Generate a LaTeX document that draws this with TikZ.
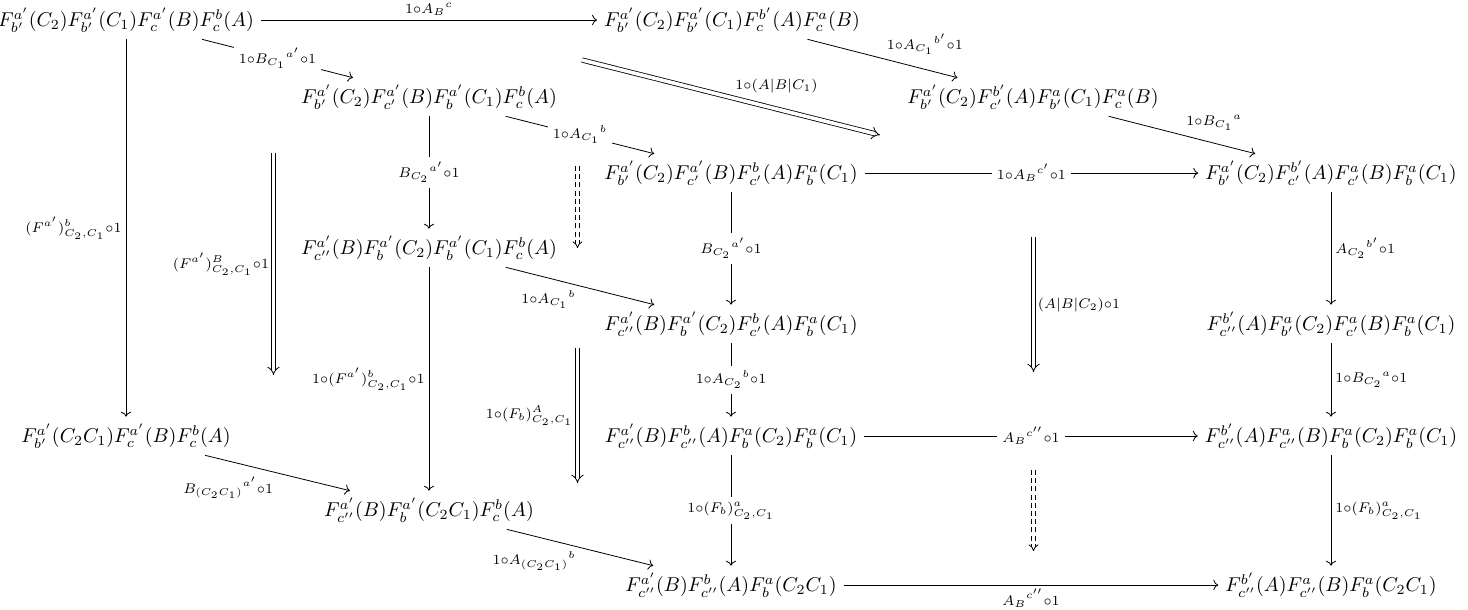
\documentclass[tikz,border=0pt]{standalone}
\usetikzlibrary{arrows.meta}
\begin{document}
\begin{tikzpicture}[x=0.5pt,y=-0.5pt,>={To},
  lab/.style={auto,inner sep=2pt,execute at begin node=$\scriptstyle,execute at end node=$},
  labsw/.style={lab,swap},
  desc/.style={fill=white,inner sep=2.5pt,execute at begin node=$\scriptstyle,execute at end node=$},
  twocell/.style={double,double distance=1.8pt,-{Implies}},
  twodash/.style={twocell,double distance=1.3pt,dash pattern=on 2.5pt off 1.6pt}]
\useasboundingbox (0,0) rectangle (1468,610);
\node (m00) at (126,20) {$F^{a'}_{b'}(C_2)F^{a'}_{b'}(C_1)F^{a'}_{c}(B)F^{b}_{c}(A)$};
\node (m02) at (732,20) {$F^{a'}_{b'}(C_2)F^{a'}_{b'}(C_1)F^{b'}_{c}(A)F^{a}_{c}(B)$};
\node (m11) at (429,97) {$F^{a'}_{b'}(C_2)F^{a'}_{c'}(B)F^{a'}_{b}(C_1)F^{b}_{c}(A)$};
\node (m13) at (1033,97) {$F^{a'}_{b'}(C_2)F^{b'}_{c'}(A)F^{a}_{b'}(C_1)F^{a}_{c}(B)$};
\node (m22) at (731,173) {$F^{a'}_{b'}(C_2)F^{a'}_{c'}(B)F^{b}_{c'}(A)F^{a}_{b}(C_1)$};
\node (m24) at (1331,173) {$F^{a'}_{b'}(C_2)F^{b'}_{c'}(A)F^{a}_{c'}(B)F^{a}_{b}(C_1)$};
\node (m31) at (429,248) {$F^{a'}_{c''}(B)F^{a'}_{b}(C_2)F^{a'}_{b}(C_1)F^{b}_{c}(A)$};
\node (m42) at (731,324) {$F^{a'}_{c''}(B)F^{a'}_{b}(C_2)F^{b}_{c'}(A)F^{a}_{b}(C_1)$};
\node (m44) at (1331,324) {$F^{b'}_{c''}(A)F^{a}_{b'}(C_2)F^{a}_{c'}(B)F^{a}_{b}(C_1)$};
\node (m50) at (126,436) {$F^{a'}_{b'}(C_2C_1)F^{a'}_{c}(B)F^{b}_{c}(A)$};
\node (m52) at (731,436) {$F^{a'}_{c''}(B)F^{b}_{c''}(A)F^{a}_{b}(C_2)F^{a}_{b}(C_1)$};
\node (m54) at (1331,436) {$F^{b'}_{c''}(A)F^{a}_{c''}(B)F^{a}_{b}(C_2)F^{a}_{b}(C_1)$};
\node (m61) at (429,510) {$F^{a'}_{c''}(B)F^{a'}_{b}(C_2C_1)F^{b}_{c}(A)$};
\node (m72) at (731,585) {$F^{a'}_{c''}(B)F^{b}_{c''}(A)F^{a}_{b}(C_2C_1)$};
\node (m74) at (1331,585) {$F^{b'}_{c''}(A)F^{a}_{c''}(B)F^{a}_{b}(C_2C_1)$};
\draw[->] (m00) -- (m02) node[lab,midway]{1\circ {A_B}^{c}};
\draw[->] (m00) -- (m11) node[desc,midway]{1\circ {B_{C_1}}^{a'}\circ 1};
\draw[->] (m00) -- (m50) node[labsw,midway]{(F^{a'})^{b}_{C_2,C_1}\circ 1};
\draw[->] (m02) -- (m13) node[lab,midway]{1\circ {A_{C_1}}^{b'}\circ 1};
\draw[->] (m13) -- (m24) node[lab,midway]{1\circ {B_{C_1}}^{a}};
\draw[->] (m11) -- (m22) node[desc,midway]{1\circ {A_{C_1}}^{b}};
\draw[->] (m11) -- (m31) node[desc,midway]{{B_{C_2}}^{a'}\circ 1};
\draw[->] (m22) -- (m24) node[desc,midway]{1\circ {A_B}^{c'}\circ 1};
\draw[->] (m22) -- (m42) node[desc,midway]{{B_{C_2}}^{a'}\circ 1};
\draw[->] (m24) -- (m44) node[lab,midway]{{A_{C_2}}^{b'}\circ 1};
\draw[->] (m31) -- (m42) node[labsw,midway]{1\circ {A_{C_1}}^{b}};
\draw[->] (m31) -- (m61) node[labsw,midway]{1\circ (F^{a'})^{b}_{C_2,C_1}\circ 1};
\draw[->] (m42) -- (m52) node[desc,midway]{1\circ {A_{C_2}}^{b}\circ 1};
\draw[->] (m44) -- (m54) node[lab,midway]{1\circ {B_{C_2}}^{a}\circ 1};
\draw[->] (m50) -- (m61) node[labsw,midway]{{B_{(C_2C_1)}}^{a'}\circ 1};
\draw[->] (m52) -- (m54) node[desc,midway]{{A_B}^{c''}\circ 1};
\draw[->] (m52) -- (m72) node[desc,midway]{1\circ (F_b)^{a}_{C_2,C_1}};
\draw[->] (m54) -- (m74) node[lab,midway]{1\circ (F_b)^{a}_{C_2,C_1}};
\draw[->] (m61) -- (m72) node[labsw,midway]{1\circ {A_{(C_2C_1)}}^{b}};
\draw[->] (m72) -- (m74) node[labsw,midway]{{A_B}^{c''}\circ 1};
\coordinate (u1) at (582,60); \coordinate (v1) at (880,135);
\coordinate (u2) at (273.5,153); \coordinate (v2) at (273.5,375);
\coordinate (u3) at (577.5,166); \coordinate (v3) at (577.5,248);
\coordinate (u4) at (577.5,348); \coordinate (v4) at (577.5,483);
\coordinate (u5) at (1033.5,237); \coordinate (v5) at (1033.5,372);
\coordinate (u6) at (1033.5,470); \coordinate (v6) at (1033.5,551);
\draw[twocell] (u1) -- (v1) node[lab,midway]{1\circ (A|B|C_1)};
\draw[twocell] (u2) -- (v2) node[labsw,midway]{(F^{a'})^{B}_{C_2,C_1}\circ 1};
\draw[twodash] (u3) -- (v3);
\draw[twocell] (u4) -- (v4) node[labsw,midway]{1\circ (F_b)^{A}_{C_2,C_1}};
\draw[twocell] (u5) -- (v5) node[lab,midway]{(A|B|C_2)\circ 1};
\draw[twodash] (u6) -- (v6);
\end{tikzpicture}
\end{document}
